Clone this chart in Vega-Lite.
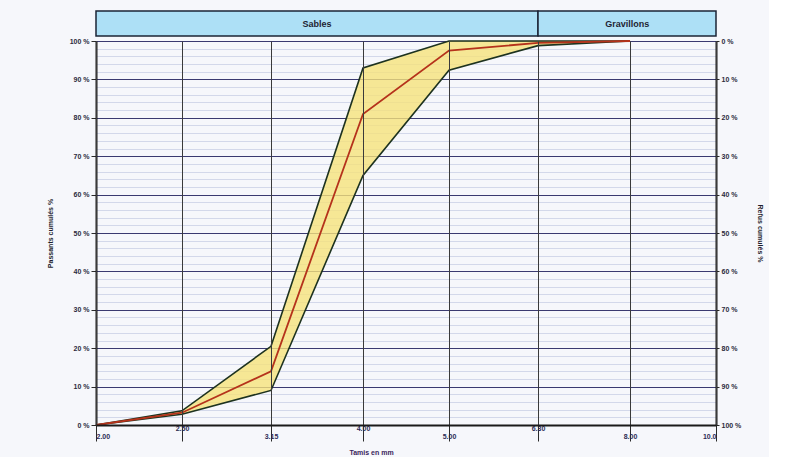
{
  "$schema": "https://vega.github.io/schema/vega-lite/v6.json",
  "padding": {"left": 46, "top": 10, "right": 5, "bottom": 2},
  "background": "#f6f7fb",
  "bounds": "flush",
  "config": {"view": {"stroke": null}, "font": "Liberation Sans"},
  "datasets": {
    "courbe": [
      {"tamis": 2.0, "min": 0, "max": 0, "courbe": 0},
      {"tamis": 2.5, "min": 2.8, "max": 3.7, "courbe": 3.2},
      {"tamis": 3.15, "min": 9, "max": 20.5, "courbe": 14},
      {"tamis": 4.0, "min": 65, "max": 93, "courbe": 81},
      {"tamis": 5.0, "min": 92.4, "max": 100, "courbe": 97.5},
      {"tamis": 6.3, "min": 98.8, "max": 100, "courbe": 99.5},
      {"tamis": 8.0, "min": 100, "max": 100, "courbe": 100}
    ],
    "zones": [
      {"zone": "Sables", "debut": 2, "fin": 6.3, "milieu": 3.55},
      {"zone": "Gravillons", "debut": 6.3, "fin": 10, "milieu": 7.94}
    ]
  },
  "spacing": 5,
  "vconcat": [
    {
      "width": 620,
      "height": 25,
      "data": {"name": "zones"},
      "layer": [
        {
          "mark": {"type": "rect", "fill": "#ade0f6", "stroke": "#1b2436", "strokeWidth": 1.5},
          "encoding": {
            "x": {"field": "debut", "type": "quantitative", "scale": {"type": "log", "domain": [2, 10]}, "axis": null},
            "x2": {"field": "fin"}
          }
        },
        {
          "mark": {"type": "text", "fontWeight": "bold", "fontSize": 9, "color": "#1e2433"},
          "encoding": {
            "x": {"field": "milieu", "type": "quantitative", "scale": {"type": "log", "domain": [2, 10]}, "axis": null},
            "text": {"field": "zone"}
          }
        }
      ]
    },
    {
      "width": 620,
      "height": 384,
      "data": {"name": "courbe"},
      "encoding": {
        "x": {
          "field": "tamis", "type": "quantitative",
          "scale": {"type": "log", "domain": [2, 10]},
          "axis": {
            "zindex": 1,
            "title": "Tamis en mm",
            "titleFontSize": 7,
            "titleColor": "#3b1f5c",
            "titleFontWeight": "bold",
            "titlePadding": 7,
            "titleX": 275,
            "values": [2, 2.5, 3.15, 4, 5, 6.3, 8, 10],
            "labelExpr": "datum.value === 10 ? '10.0' : format(datum.value, '.2f')",
            "labelFontSize": 7,
            "labelFontWeight": "bold",
            "labelColor": "#2b2b55",
            "labelPadding": {"condition": {"test": "indexof([2.5, 4, 6.3], datum.value) >= 0", "value": -17}, "value": -9},
            "tickSize": 16,
            "tickColor": "#2a2a2a",
            "domainColor": "#1a1a1a",
            "domainWidth": 2,
            "grid": true,
            "gridColor": "#3a3a3a",
            "gridOpacity": 1,
            "gridWidth": 1
          }
        }
      },
      "layer": [
        {
          "mark": {"type": "area", "color": "#f6e27c", "opacity": 0.8},
          "encoding": {
            "y": {
              "field": "min", "type": "quantitative",
              "scale": {"domain": [0, 100], "nice": false},
              "axis": {
                "title": "Passants cumulés %",
                "titleFontSize": 7,
                "titleColor": "#1e1e2e",
                "titlePadding": 16,
                "values": [0, 2, 4, 6, 8, 10, 12, 14, 16, 18, 20, 22, 24, 26, 28, 30, 32, 34, 36, 38, 40, 42, 44, 46, 48, 50, 52, 54, 56, 58, 60, 62, 64, 66, 68, 70, 72, 74, 76, 78, 80, 82, 84, 86, 88, 90, 92, 94, 96, 98, 100],
                "labelExpr": "datum.value % 10 === 0 ? datum.value + ' %' : ''",
                "labelFontSize": 7,
                "labelFontWeight": "bold",
                "labelColor": "#2b2b3b",
                "tickOpacity": {"condition": {"test": "datum.value % 10 === 0", "value": 1}, "value": 0},
                "tickColor": "#2a2a2a",
                "tickSize": 5,
                "domainColor": "#1a1a1a",
                "domainWidth": 2,
                "grid": true,
                "gridColor": {"condition": {"test": "datum.value % 10 === 0", "value": "#3a3a70"}, "value": "#d3d8ea"},
                "gridOpacity": 1,
                "gridWidth": 1
              }
            },
            "y2": {"field": "max"}
          }
        },
        {
          "mark": {"type": "line", "color": "#1d321f", "strokeWidth": 1.6},
          "encoding": {
            "y": {"field": "max", "type": "quantitative", "scale": {"domain": [0, 100], "nice": false}, "axis": null}
          }
        },
        {
          "mark": {"type": "line", "color": "#1d321f", "strokeWidth": 1.6},
          "encoding": {
            "y": {"field": "min", "type": "quantitative", "scale": {"domain": [0, 100], "nice": false}, "axis": null}
          }
        },
        {
          "mark": {"type": "line", "color": "#b5321b", "strokeWidth": 1.8},
          "encoding": {
            "y": {"field": "courbe", "type": "quantitative", "scale": {"domain": [0, 100], "nice": false}, "axis": null}
          }
        },
        {
          "mark": {"type": "point", "opacity": 0},
          "encoding": {
            "y": {
              "field": "courbe", "type": "quantitative",
              "scale": {"domain": [0, 100], "nice": false, "reverse": true},
              "axis": {
                "orient": "right",
                "title": "Refus cumulés %",
                "titleFontSize": 7,
                "titleColor": "#1e1e2e",
                "titlePadding": 16,
                "values": [0, 10, 20, 30, 40, 50, 60, 70, 80, 90, 100],
                "labelExpr": "datum.value + ' %'",
                "labelFontSize": 7,
                "labelFontWeight": "bold",
                "labelColor": "#2b2b3b",
                "tickColor": "#2a2a2a",
                "tickSize": 3,
                "domainColor": "#1a1a1a",
                "domainWidth": 2,
                "grid": false
              }
            }
          }
        }
      ],
      "resolve": {"scale": {"y": "independent"}, "axis": {"y": "independent"}}
    }
  ]
}
